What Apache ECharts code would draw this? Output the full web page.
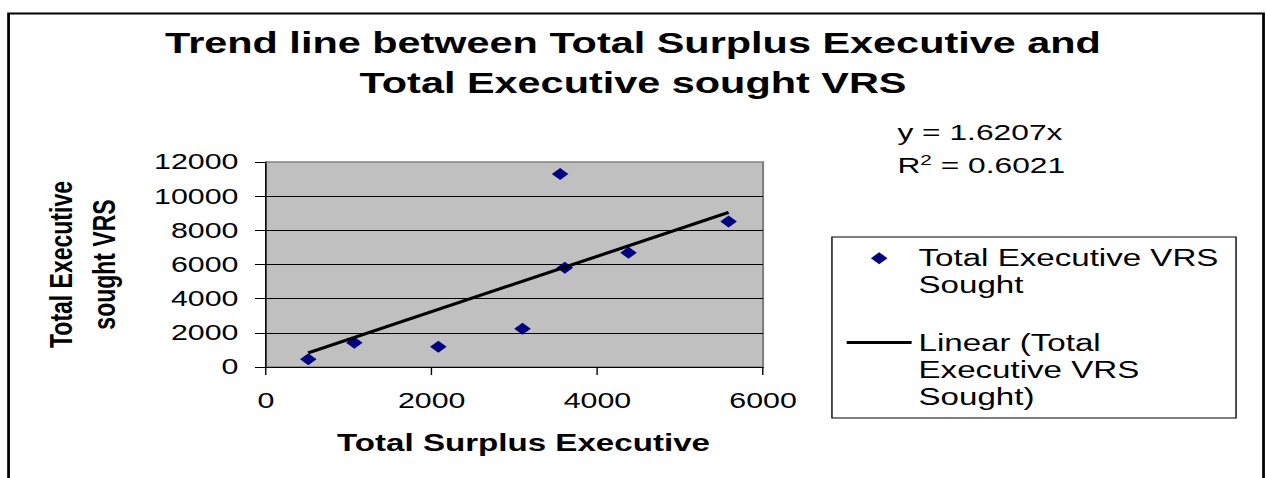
<!DOCTYPE html>
<html>
<head>
<meta charset="utf-8">
<script src="https://cdn.jsdelivr.net/npm/echarts@6/dist/echarts.min.js"></script>
<style>
  html, body { margin: 0; padding: 0; background: #fff; overflow: hidden; }
  /* chart is laid out narrow and stretched sideways to the page width */
  #chart { width: 917px; height: 478px; transform: scaleX(1.3806); transform-origin: 0 0; }
</style>
</head>
<body>
<div id="chart"></div>
<script>
// Surplus executives (x) against executives who sought VRS (y)
const surplusExecutives = [510, 1066, 2080, 3096, 3550, 3607, 4376, 5584];
const vrsSought = [450, 1420, 1190, 2240, 11300, 5810, 6690, 8510];

// Linear trend through the origin and its goodness of fit
const trendSlope = 1.6207;
const rSquared = 0.6021;

// Axis ranges: [min, max, step]
const xRange = [0, 6000, 2000];
const yRange = [0, 12000, 2000];

const titleLines = ['Trend line between Total Surplus Executive and', 'Total Executive sought VRS'];
const xTitle = 'Total Surplus Executive';
const yTitleLines = ['Total Executive', 'sought VRS'];

const scatterName = 'Total Executive VRS Sought';
const trendName = 'Linear (Total Executive VRS Sought)';
const scatterLegendLines = ['Total Executive VRS', 'Sought'];
const trendLegendLines = ['Linear (Total', 'Executive VRS', 'Sought)'];

const FONT = '"Liberation Sans", Arial, Helvetica, sans-serif';
const legendLineHeight = 27;
const legendLeft = 613.3;
const legendIconWidth = 47;
const legendIconHeight = 12;

// Legend icons: a square diamond and a short thick rule
const DIAMOND_ICON = 'path://M6,0 L12,6 L6,12 L0,6 Z';
const RULE_ICON = 'path://M0,0 L47,0 L47,3 L0,3 Z';

const points = surplusExecutives.map((x, i) => [x, vrsSought[i]]);
const xMin = Math.min(...surplusExecutives);
const xMax = Math.max(...surplusExecutives);
const trendPoints = [[xMin, trendSlope * xMin], [xMax, trendSlope * xMax]];

// Legend text is centred on its icon; leading blank lines keep the
// icon level with the first line of a wrapped entry.
function legendText(lines) {
  return new Array(lines.length - 1).fill('').concat(lines).join('\n');
}

// iconInset: gap between the icon slot's left edge and the drawn icon,
// since the legend is placed by its visible content
function legendFor(name, lines, icon, iconInset, top) {
  return {
    orient: 'vertical',
    left: legendLeft + iconInset,
    top: top,
    padding: 0,
    itemWidth: legendIconWidth,
    itemHeight: legendIconHeight,
    symbolKeepAspect: true,
    z: 5,
    textStyle: { color: '#000', fontFamily: FONT, fontSize: 24, lineHeight: legendLineHeight },
    formatter: () => legendText(lines),
    data: [{ name: name, icon: icon }]
  };
}

const chart = echarts.init(document.getElementById('chart'), null, { renderer: 'svg' });

chart.setOption({
  animation: false,
  backgroundColor: '#fff',
  textStyle: { fontFamily: FONT, color: '#000' },
  title: {
    text: titleLines.join('\n'),
    left: 'center',
    top: 22.5,
    padding: [0, 0, 0, 10],
    textStyle: { fontFamily: FONT, fontSize: 30, fontWeight: 'bold', color: '#000', lineHeight: 40 }
  },
  grid: {
    left: 192.7, top: 162, width: 360, height: 205,
    show: true,
    backgroundColor: '#C0C0C0',
    borderColor: '#808080',
    borderWidth: 1.5,
    containLabel: false,
    outerBoundsMode: 'none'
  },
  xAxis: {
    type: 'value',
    min: xRange[0], max: xRange[1], interval: xRange[2],
    axisLine: { show: true, onZero: false, lineStyle: { color: '#000', width: 1 } },
    axisTick: { show: true, length: 8, lineStyle: { color: '#000', width: 1 } },
    axisLabel: { color: '#000', fontFamily: FONT, fontSize: 22, margin: 23, formatter: v => String(v) },
    splitLine: { show: false },
    name: xTitle,
    nameLocation: 'middle',
    nameGap: 64,
    nameTextStyle: { color: '#000', fontFamily: FONT, fontSize: 24, fontWeight: 'bold', padding: [0, 0, 0, 13] }
  },
  yAxis: {
    type: 'value',
    min: yRange[0], max: yRange[1], interval: yRange[2],
    axisLine: { show: true, onZero: false, lineStyle: { color: '#000', width: 1 } },
    axisTick: { show: true, length: 8, lineStyle: { color: '#000', width: 1 } },
    axisLabel: { color: '#000', fontFamily: FONT, fontSize: 22, margin: 20, formatter: v => String(v) },
    splitLine: { show: true, showMinLine: false, showMaxLine: false, lineStyle: { color: '#000', width: 1 } },
    name: yTitleLines.join('\n'),
    nameLocation: 'middle',
    nameGap: 102,
    nameTextStyle: { color: '#000', fontFamily: FONT, fontSize: 23, fontWeight: 'bold', lineHeight: 31 }
  },
  legend: [
    legendFor(scatterName, scatterLegendLines, DIAMOND_ICON, (legendIconWidth - legendIconHeight) / 2, 217.7),
    legendFor(trendName, trendLegendLines, RULE_ICON, 0, 275)
  ],
  graphic: [
    // outer chart frame
    { type: 'rect', z: 0, silent: true,
      shape: { x: 6.2, y: 13.5, width: 909, height: 520 },
      style: { fill: 'none', stroke: '#000', lineWidth: 2 } },
    // legend box
    { type: 'rect', z: 1, silent: true,
      shape: { x: 602.6, y: 237, width: 292.7, height: 181 },
      style: { fill: '#fff', stroke: '#000', lineWidth: 1 } },
    // trend equation
    { type: 'text', z: 5, silent: true, x: 650, y: 132,
      style: { text: 'y = ' + trendSlope.toFixed(4) + 'x', fill: '#000', fontFamily: FONT, fontSize: 23, verticalAlign: 'middle' } },
    { type: 'text', z: 5, silent: true, x: 650, y: 165,
      style: {
        text: '{r|R}{s|2}{r| = ' + rSquared.toFixed(4) + '}',
        verticalAlign: 'middle',
        rich: {
          r: { fill: '#000', fontFamily: FONT, fontSize: 23, lineHeight: 25 },
          s: { fill: '#000', fontFamily: FONT, fontSize: 15, lineHeight: 15, verticalAlign: 'top' }
        }
      } }
  ],
  series: [
    {
      name: scatterName,
      type: 'scatter',
      data: points,
      symbol: 'diamond',
      symbolSize: 12,
      itemStyle: { color: '#000080', opacity: 1 },
      z: 2
    },
    {
      name: trendName,
      type: 'line',
      data: trendPoints,
      symbol: 'none',
      lineStyle: { color: '#000', width: 3 },
      itemStyle: { color: '#000' },
      z: 3
    }
  ]
});
</script>
</body>
</html>
